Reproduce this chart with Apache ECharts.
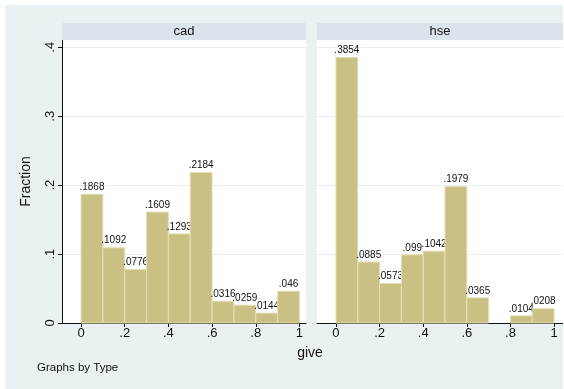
<!DOCTYPE html>
<html>
<head>
<meta charset="utf-8">
<script src="https://cdn.jsdelivr.net/npm/echarts@6/dist/echarts.min.js"></script>
<style>
  html, body { margin: 0; padding: 0; background: #fff; }
  #chart { width: 564px; height: 389px; }
</style>
</head>
<body>
<div id="chart"></div>
<script>
// Histogram of "give" by Type (fraction per bin of width 0.1)
const binStarts = [0, 0.1, 0.2, 0.3, 0.4, 0.5, 0.6, 0.7, 0.8, 0.9];
const binWidth = 0.1;
const cadValues = [0.1868, 0.1092, 0.0776, 0.1609, 0.1293, 0.2184, 0.0316, 0.0259, 0.0144, 0.046];
const hseValues = [0.3854, 0.0885, 0.0573, 0.099, 0.1042, 0.1979, 0.0365, null, 0.0104, 0.0208];
const panelNames = ['cad', 'hse'];
const xTicks = [0, 0.2, 0.4, 0.6, 0.8, 1];
const yTicks = [0, 0.1, 0.2, 0.3, 0.4];

const FONT = '"Liberation Sans", Arial, Helvetica, sans-serif';
const BAR = '#c9c183';
const BAR_EDGE = '#e4dfb6';
const BG = '#eaf1f3';
const STRIP = '#d9e4eb';

// Stata-style number text: drop leading zero
const fmt = v => {
  if (v === 0) return '0';
  const s = String(v);
  return s.startsWith('0.') ? s.slice(1) : s;
};

const panels = [
  { left: 62, width: 244, xMax: 1.03 },
  { left: 317, width: 246, xMax: 1.041 }
];
const plotTop = 40, plotHeight = 283;

const grids = panels.map(p => ({
  left: p.left, top: plotTop, width: p.width, height: plotHeight,
  show: true, backgroundColor: '#ffffff', borderWidth: 0
}));

const xAxes = panels.map((p, i) => ({
  type: 'value', gridIndex: i, min: -0.087, max: p.xMax,
  axisLine: { show: true, onZero: false, lineStyle: { color: '#111', width: 1 } },
  axisTick: { show: true, length: 4, customValues: xTicks, lineStyle: { color: '#111' } },
  axisLabel: { customValues: xTicks, formatter: fmt, margin: 4,
    color: '#111', fontSize: 13, fontFamily: FONT },
  splitLine: { show: false }
}));

const yAxes = panels.map((p, i) => ({
  type: 'value', gridIndex: i, min: 0, max: 0.4106, interval: 0.1,
  axisLine: { show: i === 0, onZero: false, lineStyle: { color: '#111', width: 1 } },
  axisTick: { show: i === 0, length: 4, customValues: yTicks, lineStyle: { color: '#111' } },
  axisLabel: { show: i === 0, customValues: yTicks, formatter: fmt, rotate: 90, margin: 5,
    color: '#111', fontSize: 13, fontFamily: FONT },
  splitLine: { show: true, lineStyle: { color: '#e8eff2', width: 1 } },
  name: i === 0 ? 'Fraction' : '',
  nameLocation: 'middle', nameGap: 29,
  nameTextStyle: { color: '#111', fontSize: 14, fontFamily: FONT }
}));

function histSeries(values, idx) {
  const data = binStarts.map((b, k) => [b, values[k]]).filter(d => d[1] != null);
  return {
    type: 'custom', xAxisIndex: idx, yAxisIndex: idx, clip: false,
    data: data,
    renderItem: function (params, api) {
      const x0 = api.value(0), v = api.value(1);
      const p0 = api.coord([x0, 0]);
      const p1 = api.coord([x0 + binWidth, v]);
      return {
        type: 'group',
        children: [
          {
            type: 'rect',
            shape: { x: p0[0], y: p1[1], width: p1[0] - p0[0], height: p0[1] - p1[1] },
            style: { fill: BAR, stroke: BAR_EDGE, lineWidth: 1 }
          },
          {
            type: 'text',
            style: {
              x: (p0[0] + p1[0]) / 2, y: p1[1] - 2,
              text: fmt(v), align: 'center', verticalAlign: 'bottom',
              fill: '#111', font: '10px ' + FONT
            }
          }
        ]
      };
    }
  };
}

const graphics = [];
panels.forEach((p, i) => {
  graphics.push({
    type: 'rect', left: p.left, top: 23, z: 10,
    shape: { width: p.width, height: 17 },
    style: { fill: STRIP }
  });
  graphics.push({
    type: 'text', x: p.left + p.width / 2, y: 31.5, z: 11,
    style: { text: panelNames[i], align: 'center', verticalAlign: 'middle',
      fill: '#111', font: '13px ' + FONT }
  });
});
graphics.push({
  type: 'text', x: 310, y: 353, z: 11,
  style: { text: 'give', align: 'center', verticalAlign: 'middle',
    fill: '#111', font: '14px ' + FONT }
});
graphics.push({
  type: 'text', x: 37, y: 368, z: 11,
  style: { text: 'Graphs by Type', align: 'left', verticalAlign: 'middle',
    fill: '#111', font: '11.5px ' + FONT }
});
// white page margin around the graph region
[[0, 0, 564, 5], [0, 0, 5, 389], [563, 0, 1, 389]].forEach(r => {
  graphics.push({ type: 'rect', x: r[0], y: r[1], z: 20,
    shape: { width: r[2], height: r[3] }, style: { fill: '#ffffff' } });
});

const chart = echarts.init(document.getElementById('chart'), null, { renderer: 'canvas' });
chart.setOption({
  animation: false,
  backgroundColor: BG,
  grid: grids,
  xAxis: xAxes,
  yAxis: yAxes,
  series: [histSeries(cadValues, 0), histSeries(hseValues, 1)],
  graphic: graphics
});
</script>
</body>
</html>
